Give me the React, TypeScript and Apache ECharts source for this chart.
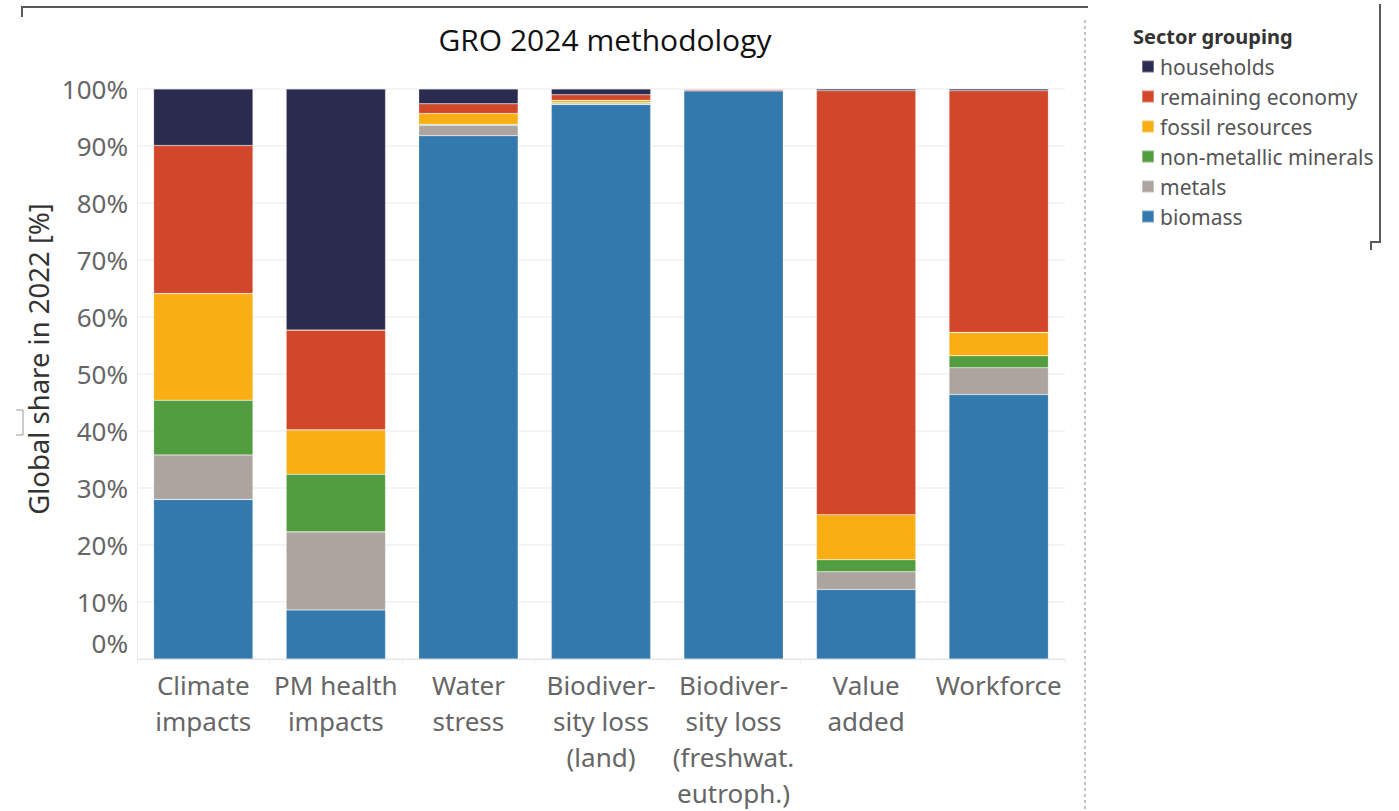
import React, { useEffect, useRef } from "react";
import * as echarts from "echarts";

// Impact / indicator categories (x axis)
const categories = [
  "Climate\nimpacts",
  "PM health\nimpacts",
  "Water\nstress",
  "Biodiver-\nsity loss\n(land)",
  "Biodiver-\nsity loss\n(freshwat.\neutroph.)",
  "Value\nadded",
  "Workforce",
];

// Global share in 2022 [%] per sector grouping
const biomass = [28.0, 8.6, 91.8, 97.3, 99.7, 12.2, 46.4];
const metals = [7.8, 13.7, 1.8, 0.1, 0.0, 3.1, 4.7];
const nonMetallicMinerals = [9.6, 10.1, 0.2, 0.2, 0.0, 2.1, 2.1];
const fossilResources = [18.7, 7.8, 1.9, 0.4, 0.0, 7.9, 4.1];
const remainingEconomy = [26.0, 17.5, 1.7, 1.0, 0.2, 74.4, 42.4];
const households = [9.9, 42.3, 2.6, 1.0, 0.1, 0.3, 0.3];

const yTicks = [0, 10, 20, 30, 40, 50, 60, 70, 80, 90, 100];

const sectorSeries = [
  { name: "biomass", data: biomass, color: "#3479ae" },
  { name: "metals", data: metals, color: "#aca49f" },
  { name: "non-metallic minerals", data: nonMetallicMinerals, color: "#539d41" },
  { name: "fossil resources", data: fossilResources, color: "#f9ae14" },
  { name: "remaining economy", data: remainingEconomy, color: "#d2472a" },
  { name: "households", data: households, color: "#2a2b4e" },
];

const legendOrder = [
  "households",
  "remaining economy",
  "fossil resources",
  "non-metallic minerals",
  "metals",
  "biomass",
];

const FONT = "'Noto Sans', sans-serif";

export default function App() {
  const ref = useRef<HTMLDivElement>(null);

  useEffect(() => {
    if (!ref.current) return;
    const chart = echarts.init(ref.current, null, { renderer: "svg" });

    chart.setOption({
      animation: false,
      backgroundColor: "#ffffff",
      title: {
        text: "GRO 2024 methodology",
        left: 600,
        top: 19,
        textAlign: "center",
        textStyle: {
          fontFamily: "'Open Sans', sans-serif",
          fontSize: 30,
          fontWeight: "normal",
          color: "#111111",
        },
      },
      legend: {
        orient: "vertical",
        left: 1136,
        top: 51,
        itemWidth: 12,
        itemHeight: 12,
        itemGap: 9,
        icon: "rect",
        data: legendOrder,
        textStyle: {
          fontFamily: FONT,
          fontSize: 21,
          color: "#555555",
          lineHeight: 21,
          padding: [0, 0, 0, 1],
        },
      },
      grid: {
        left: 137,
        right: 334,
        top: 89,
        bottom: 150,
        containLabel: false,
      },
      xAxis: {
        type: "category",
        data: categories,
        axisLine: { lineStyle: { color: "#e4e4e4", width: 1 } },
        axisTick: { show: true, length: 5, lineStyle: { color: "#eeeeee" } },
        axisLabel: {
          interval: 0,
          margin: 8,
          fontFamily: FONT,
          fontSize: 26,
          lineHeight: 36,
          color: "#666666",
        },
      },
      yAxis: {
        type: "value",
        min: 0,
        max: 100,
        interval: 10,
        axisLine: { show: true, lineStyle: { color: "#ececec" } },
        axisTick: { show: false },
        splitLine: { lineStyle: { color: "#f1f1f1", width: 1.5 } },
        axisLabel: {
          margin: 9,
          fontFamily: FONT,
          fontSize: 26,
          color: "#666666",
          formatter: (v: number) =>
            v === yTicks[0] ? "{z|" + v + "%}" : v + "%",
          rich: {
            z: {
              fontFamily: FONT,
              fontSize: 26,
              color: "#666666",
              padding: [0, 0, 32, 0],
            },
          },
        },
      },
      series: sectorSeries.map((s) => ({
        name: s.name,
        type: "bar",
        stack: "share",
        data: s.data,
        barCategoryGap: "25%",
        itemStyle: {
          color: s.color,
          borderColor: "rgba(255,255,255,0.35)",
          borderWidth: 0.6,
        },
        emphasis: { disabled: true },
      })),
      graphic: [
        // y axis title
        {
          type: "text",
          x: 38,
          y: 359,
          rotation: Math.PI / 2,
          style: {
            text: "Global share in 2022 [%]",
            fontFamily: FONT,
            fontSize: 27.5,
            fill: "#333333",
            align: "center",
            verticalAlign: "middle",
          },
        },
        // legend title
        {
          type: "text",
          left: 1133,
          top: 26,
          style: {
            text: "Sector grouping",
            fontFamily: FONT,
            fontSize: 20,
            fontWeight: "bold",
            fill: "#333333",
          },
        },
        // dashboard frame: top rule with its corner
        {
          type: "polyline",
          shape: { points: [[22, 17], [22, 7], [1088, 7]] },
          style: { stroke: "#5a5a5a", lineWidth: 2, fill: "none" },
        },
        // dotted divider between chart and legend
        {
          type: "line",
          shape: { x1: 1085, y1: 20, x2: 1085, y2: 811 },
          style: { stroke: "#c4c4c4", lineWidth: 2, lineDash: [3, 3] },
        },
        // legend frame edge
        {
          type: "polyline",
          shape: { points: [[1380, 4], [1380, 242], [1371, 242], [1371, 250]] },
          style: { stroke: "#5a5a5a", lineWidth: 2, fill: "none" },
        },
        // small bracket near the axis title
        {
          type: "polyline",
          shape: { points: [[16, 410], [23, 410], [23, 435], [16, 435]] },
          style: { stroke: "#9a9a9a", lineWidth: 1, fill: "none" },
        },
      ],
    });

    return () => chart.dispose();
  }, []);

  return (
    <div
      ref={ref}
      style={{ position: "fixed", left: 0, top: 0, width: 1399, height: 811 }}
    />
  );
}
